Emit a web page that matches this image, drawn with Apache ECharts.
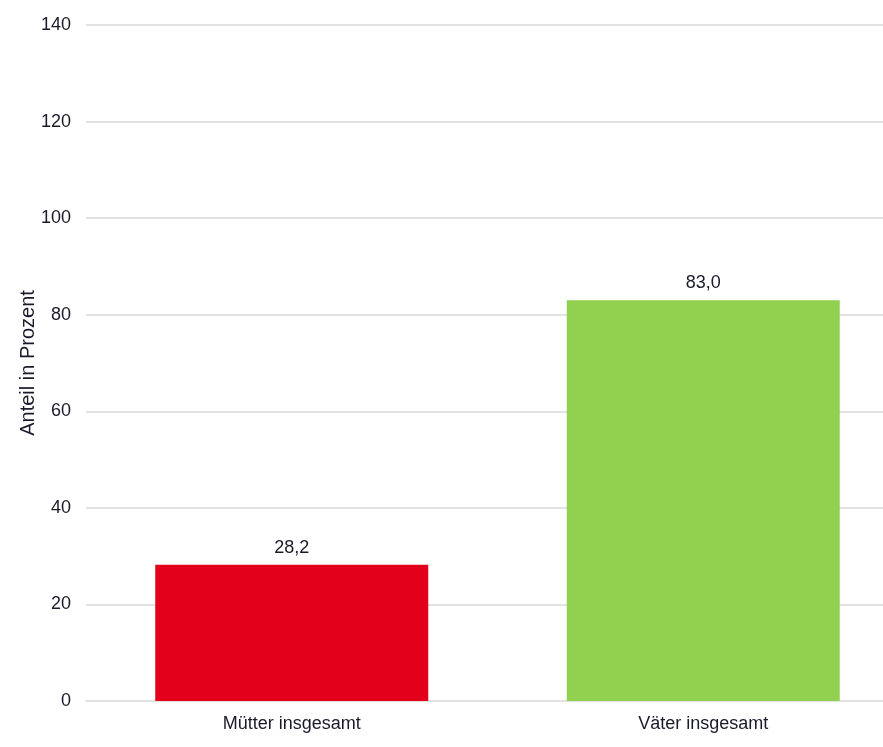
<!DOCTYPE html>
<html>
<head>
<meta charset="utf-8">
<script src="https://cdn.jsdelivr.net/npm/echarts@6/dist/echarts.min.js"></script>
<style>
html,body{margin:0;padding:0;background:#fff;}
#chart{width:883px;height:747px;}
</style>
</head>
<body>
<div id="chart"></div>
<script>
const categories = ["Mütter insgesamt", "Väter insgesamt"];
const values = [28.2, 83.0];
const barColors = ["#E2001A", "#92D050"];
const yTicks = [0, 20, 40, 60, 80, 100, 120, 140];

const font = '"Liberation Sans", Arial, sans-serif';
const chart = echarts.init(document.getElementById('chart'));
chart.setOption({
  animation: false,
  backgroundColor: '#fff',
  grid: { left: 86, top: 25, bottom: 46, right: -26, outerBoundsMode: 'none', containLabel: false },
  xAxis: {
    type: 'category',
    data: categories,
    axisLine: { show: true, lineStyle: { color: '#e2e2e2', width: 2 } },
    axisTick: { show: false },
    axisLabel: { color: '#1a1a2a', fontFamily: font, fontSize: 18, margin: 14 }
  },
  yAxis: {
    type: 'value',
    min: yTicks[0],
    max: yTicks[yTicks.length - 1],
    interval: yTicks[1] - yTicks[0],
    name: 'Anteil in Prozent',
    nameLocation: 'middle',
    nameGap: 48,
    nameMoveOverlap: false,
    nameTextStyle: { color: '#1a1a2a', fontFamily: font, fontSize: 20 },
    axisLine: { show: false },
    axisTick: { show: false },
    axisLabel: { color: '#1a1a2a', fontFamily: font, fontSize: 18, margin: 15 },
    splitLine: { lineStyle: { color: '#e2e2e2', width: 2 } }
  },
  series: [{
    type: 'bar',
    barWidth: 273,
    data: values.map((v, i) => ({ value: v, itemStyle: { color: barColors[i] } })),
    label: {
      show: true,
      position: 'top',
      distance: 8,
      color: '#1a1a2a',
      fontFamily: font,
      fontSize: 18,
      formatter: p => p.value.toFixed(1).replace('.', ',')
    }
  }]
});
</script>
</body>
</html>
